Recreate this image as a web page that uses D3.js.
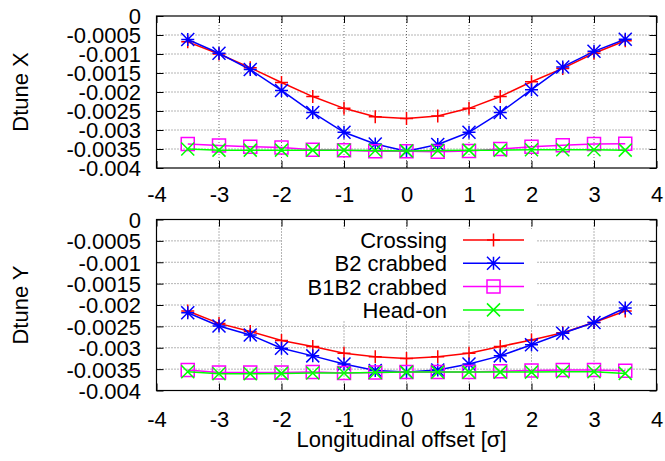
<!DOCTYPE html>
<html>
<head>
<meta charset="utf-8">
<script src="https://cdnjs.cloudflare.com/ajax/libs/d3/7.8.5/d3.min.js"></script>
<style>
body { margin: 0; background: #fff; }
svg text { font-family: "Liberation Sans", Arial, sans-serif; font-size: 22px; fill: #000; }
.grid line { stroke: #444; stroke-width: 0.8; stroke-dasharray: 1,2; }
</style>
</head>
<body>
<script>
var width = 665;
var height = 461;

var offsets = [-3.5, -3, -2.5, -2, -1.5, -1, -0.5, 0, 0.5, 1, 1.5, 2, 2.5, 3, 3.5];
var xTicks = [-4, -3, -2, -1, 0, 1, 2, 3, 4];
var yTicks = [0, -0.0005, -0.001, -0.0015, -0.002, -0.0025, -0.003, -0.0035, -0.004];
var seriesNames = ["Crossing", "B2 crabbed", "B1B2 crabbed", "Head-on"];
var seriesColors = ["#ff0000", "#0000ff", "#ff00ff", "#00ff00"];
var seriesMarks = ["plus", "star", "square", "cross"];

// Dtune X
var crossingX = [-0.00068, -0.00100, -0.00136, -0.00175, -0.00212, -0.00243, -0.00265, -0.00270, -0.00263, -0.00243, -0.00212, -0.00173, -0.00138, -0.00098, -0.00065];
var b2X = [-0.00062, -0.00098, -0.00141, -0.00196, -0.00254, -0.00306, -0.00337, -0.00356, -0.00338, -0.00306, -0.00254, -0.00194, -0.00134, -0.00093, -0.00061];
var b1b2X = [-0.00337, -0.00341, -0.00344, -0.00346, -0.00352, -0.00353, -0.00356, -0.00356, -0.00357, -0.00355, -0.00350, -0.00344, -0.00340, -0.00337, -0.00336];
var headonX = [-0.00350, -0.00353, -0.00353, -0.00353, -0.00353, -0.00353, -0.00354, -0.00355, -0.00354, -0.00353, -0.00353, -0.00352, -0.00352, -0.00352, -0.00353];

// Dtune Y
var crossingY = [-0.00214, -0.00243, -0.00262, -0.00283, -0.00297, -0.00313, -0.00321, -0.00325, -0.00321, -0.00313, -0.00297, -0.00282, -0.00265, -0.00241, -0.00214];
var b2Y = [-0.00218, -0.00249, -0.00270, -0.00301, -0.00319, -0.00338, -0.00353, -0.00357, -0.00352, -0.00338, -0.00319, -0.00293, -0.00266, -0.00241, -0.00207];
var b1b2Y = [-0.00352, -0.00358, -0.00358, -0.00358, -0.00357, -0.00359, -0.00358, -0.00357, -0.00357, -0.00357, -0.00355, -0.00353, -0.00352, -0.00352, -0.00354];
var headonY = [-0.00356, -0.00361, -0.00361, -0.00360, -0.00359, -0.00359, -0.00358, -0.00357, -0.00357, -0.00357, -0.00357, -0.00357, -0.00356, -0.00356, -0.00360];

var svg = d3.select("body").append("svg")
    .attr("width", width)
    .attr("height", height);

var x = d3.scaleLinear().domain([-4, 4]).range([156.5, 656.5]);

function marker(g, type, px, py, color) {
    var s = 6.5;
    var path;
    if (type == "plus") {
        path = "M" + (px - s) + "," + py + "H" + (px + s) + "M" + px + "," + (py - s) + "V" + (py + s);
    } else if (type == "cross") {
        path = "M" + (px - s) + "," + (py - s) + "L" + (px + s) + "," + (py + s) +
            "M" + (px - s) + "," + (py + s) + "L" + (px + s) + "," + (py - s);
    } else if (type == "star") {
        path = "M" + (px - s) + "," + py + "H" + (px + s) + "M" + px + "," + (py - s) + "V" + (py + s) +
            "M" + (px - s) + "," + (py - s) + "L" + (px + s) + "," + (py + s) +
            "M" + (px - s) + "," + (py + s) + "L" + (px + s) + "," + (py - s);
    } else {
        path = "M" + (px - s) + "," + (py - s) + "h" + (2 * s) + "v" + (2 * s) + "h" + (-2 * s) + "Z";
    }
    g.append("path").attr("d", path)
        .attr("fill", "none")
        .attr("stroke", color)
        .attr("stroke-width", 1.5);
}

function panel(top, bottom, title, data, showKey, labelDrop) {
    var y = d3.scaleLinear().domain([-0.004, 0]).range([bottom, top]);
    var g = svg.append("g");

    // grid
    var grid = g.append("g").attr("class", "grid");
    grid.selectAll(".gx").data(xTicks.slice(1, -1)).enter().append("line")
        .attr("x1", function(d) { return x(d); }).attr("x2", function(d) { return x(d); })
        .attr("y1", top).attr("y2", bottom);
    grid.selectAll(".gy").data(yTicks.slice(1, -1)).enter().append("line")
        .attr("x1", x(-4)).attr("x2", x(4))
        .attr("y1", function(d) { return y(d); }).attr("y2", function(d) { return y(d); });

    // key background hides the grid
    if (showKey) {
        g.append("rect")
            .attr("x", 282).attr("y", 229)
            .attr("width", 255).attr("height", 91)
            .attr("fill", "#fff");
    }

    // axes with inward ticks, mirrored
    var axL = d3.axisLeft(y).tickValues(yTicks).tickSize(-7).tickFormat(function(d) { return String(d); });
    var axR = d3.axisRight(y).tickValues(yTicks).tickSize(-7).tickFormat("");
    var axB = d3.axisBottom(x).tickValues(xTicks).tickSize(-7).tickFormat(function(d) { return String(d); });
    var axT = d3.axisTop(x).tickValues(xTicks).tickSize(-7).tickFormat("");

    var gl = g.append("g").attr("transform", "translate(" + x(-4) + ",0)").call(axL);
    g.append("g").attr("transform", "translate(" + x(4) + ",0)").call(axR);
    var gb = g.append("g").attr("transform", "translate(0," + bottom + ")").call(axB);
    g.append("g").attr("transform", "translate(0," + top + ")").call(axT);

    g.selectAll(".domain").remove();
    g.selectAll(".tick line").attr("stroke", "#000");
    g.selectAll(".tick text").style("font-family", "Liberation Sans, Arial, sans-serif").style("font-size", "22px");
    gl.selectAll(".tick text").attr("dy", "0.36em").attr("x", -15.5);
    gb.selectAll(".tick text").attr("dy", null).attr("y", labelDrop);

    // series
    var line = d3.line()
        .x(function(d) { return x(d[0]); })
        .y(function(d) { return y(d[1]); });
    data.forEach(function(vals, i) {
        var pts = offsets.map(function(o, j) { return [o, vals[j]]; });
        g.append("path").datum(pts)
            .attr("d", line)
            .attr("fill", "none")
            .attr("stroke", seriesColors[i])
            .attr("stroke-width", 1.5);
        pts.forEach(function(p) {
            marker(g, seriesMarks[i], x(p[0]), y(p[1]), seriesColors[i]);
        });
    });

    // key
    if (showKey) {
        seriesNames.forEach(function(name, i) {
            var ky = 240 + i * 23.3;
            g.append("text").attr("x", 447).attr("y", ky).attr("dy", "0.36em")
                .attr("text-anchor", "end").text(name);
            g.append("line").attr("x1", 463).attr("x2", 524)
                .attr("y1", ky).attr("y2", ky)
                .attr("stroke", seriesColors[i]).attr("stroke-width", 1.5);
            marker(g, seriesMarks[i], 493.5, ky, seriesColors[i]);
        });
    }

    // frame
    g.append("rect")
        .attr("x", x(-4)).attr("y", top)
        .attr("width", x(4) - x(-4)).attr("height", bottom - top)
        .attr("fill", "none").attr("stroke", "#000").attr("stroke-width", 1.2);

    svg.append("text")
        .attr("transform", "translate(28," + ((top + bottom) / 2) + ") rotate(-90)")
        .attr("text-anchor", "middle")
        .text(title);
}

panel(16, 168, "Dtune X", [crossingX, b2X, b1b2X, headonX], false, 34);
panel(219.5, 390.5, "Dtune Y", [crossingY, b2Y, b1b2Y, headonY], true, 36);

svg.append("text")
    .attr("x", 401.5).attr("y", 447)
    .attr("text-anchor", "middle")
    .text("Longitudinal offset [σ]");
</script>
</body>
</html>
